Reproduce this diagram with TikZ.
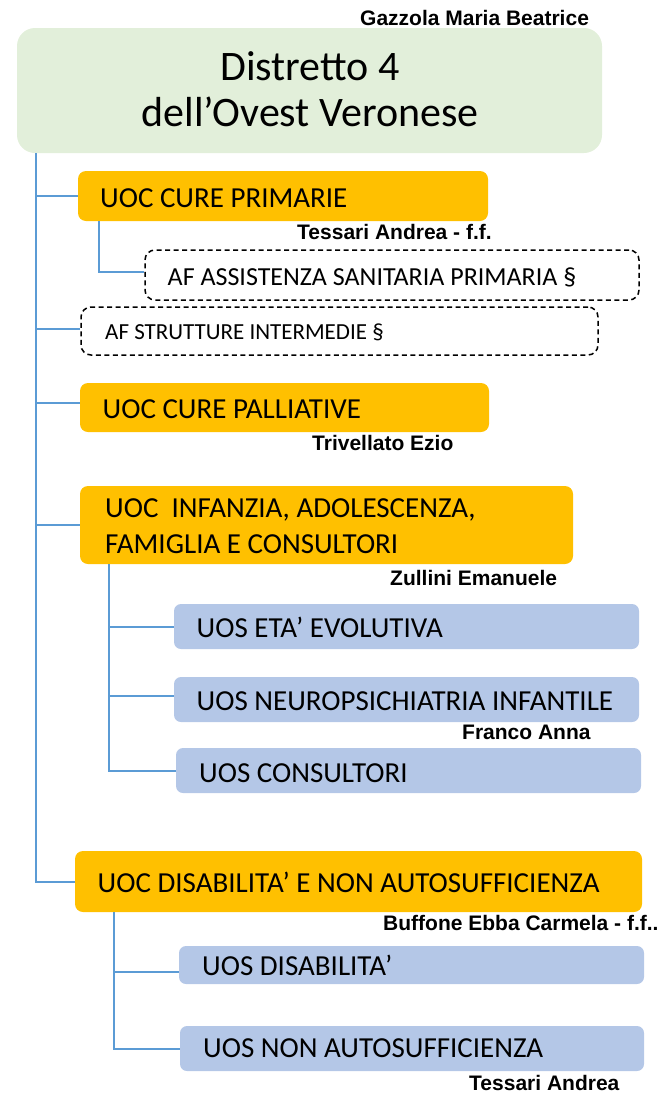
\documentclass[tikz,border=0pt]{standalone}
\usepackage{fontspec}
\setmainfont{Carlito}
\newfontfamily\namefont{Liberation Sans}
\definecolor{topgreen}{HTML}{E2EFDA}
\definecolor{uocorange}{HTML}{FFC000}
\definecolor{uosblue}{HTML}{B4C7E7}
\definecolor{connblue}{HTML}{5B9BD5}
\tikzset{
  topbox/.style={fill=topgreen, rounded corners=18pt, inner sep=0pt},
  uocbox/.style={fill=uocorange, rounded corners=8pt, inner sep=0pt},
  uosbox/.style={fill=uosblue, rounded corners=7pt, inner sep=0pt},
  afbox/.style={draw=black, dash pattern=on 5pt off 3.5pt, line width=1.5pt, rounded corners=10pt, inner sep=0pt},
  conn/.style={draw=connblue, line width=2pt},
  boxtext/.style={anchor=base west, inner sep=0pt, font=\fontsize{29}{35}\selectfont},
  nametext/.style={anchor=base west, inner sep=0pt, font=\namefont\bfseries\fontsize{21}{25}\selectfont},
}
\begin{document}
\begin{tikzpicture}[x=1pt,y=-1pt]
\useasboundingbox (0,0) rectangle (667,1095);
% boxes
\node[topbox, minimum width=585pt, minimum height=125pt] (top) at (309.5,90.5) {};
\node[uocbox, minimum width=410pt, minimum height=50pt] (uoc1) at (283,196) {};
\node[afbox, minimum width=494pt, minimum height=50pt] (af1) at (392,275) {};
\node[afbox, minimum width=517pt, minimum height=48pt] (af2) at (339.5,331) {};
\node[uocbox, minimum width=409pt, minimum height=49pt] (uoc2) at (284.5,407.5) {};
\node[uocbox, minimum width=493pt, minimum height=78pt] (uoc3) at (326.5,525) {};
\node[uosbox, minimum width=465pt, minimum height=45pt] (uos1) at (406.5,626.5) {};
\node[uosbox, minimum width=465pt, minimum height=45pt] (uos2) at (406.5,699.5) {};
\node[uosbox, minimum width=465pt, minimum height=45pt] (uos3) at (408.5,770.5) {};
\node[uocbox, minimum width=567pt, minimum height=61pt] (uoc4) at (358.5,881.5) {};
\node[uosbox, minimum width=465pt, minimum height=38pt] (uos4) at (411.5,965) {};
\node[uosbox, minimum width=464pt, minimum height=45pt] (uos5) at (412,1048.5) {};
% connectors
\coordinate (t0) at (36,153);
\draw[conn] (t0) |- (uoc4.west);
\draw[conn] (t0 |- uoc1.west) -- (uoc1.west);
\draw[conn] (t0 |- 0,329) -- (af2.west |- 0,329);
\draw[conn] (t0 |- 0,403) -- (uoc2.west |- 0,403);
\draw[conn] (t0 |- uoc3.west) -- (uoc3.west);
\coordinate (s1) at (99,221);
\draw[conn] (s1) |- ([yshift=3pt]af1.west);
\coordinate (s3) at (109,564);
\draw[conn] (s3) |- (uos3.west);
\draw[conn] (s3 |- uos1.west) -- (uos1.west);
\draw[conn] (s3 |- 0,696) -- (uos2.west |- 0,696);
\coordinate (s4) at (114,912);
\draw[conn] (s4) |- (uos5.west);
\draw[conn] (s4 |- 0,972) -- (uos4.west |- 0,972);
% texts
\node[anchor=base, inner sep=0pt, font=\fontsize{42}{46}\selectfont] (tt1) at (310,80) {Distretto 4};
\node[anchor=base, inner sep=0pt, font=\fontsize{42}{46}\selectfont] (tt2) at (310,126) {dell’Ovest Veronese};
\node[nametext] (n0) at (360,25) {Gazzola Maria Beatrice};
\node[boxtext] (x1) at (100,207) {UOC CURE PRIMARIE};
\node[nametext] (n1) at (297,239) {Tessari Andrea - f.f.};
\node[boxtext, font=\fontsize{26}{31}\selectfont] (x2) at (167.5,285) {AF ASSISTENZA SANITARIA PRIMARIA §};
\node[boxtext, font=\fontsize{23}{28}\selectfont] (x3) at (105,339) {AF STRUTTURE INTERMEDIE §};
\node[boxtext] (x4) at (102.5,418) {UOC CURE PALLIATIVE};
\node[nametext] (n2) at (312,450) {Trivellato Ezio};
\node[boxtext] (x5) at (105,517) {UOC\ \ INFANZIA, ADOLESCENZA,};
\node[boxtext] (x6) at (105,553) {FAMIGLIA E CONSULTORI};
\node[nametext] (n3) at (390,585) {Zullini Emanuele};
\node[boxtext] (x7) at (196.5,637) {UOS ETA’ EVOLUTIVA};
\node[boxtext] (x8) at (196.5,710) {UOS NEUROPSICHIATRIA INFANTILE};
\node[nametext] (n4) at (462,739) {Franco Anna};
\node[boxtext] (x9) at (199,782) {UOS CONSULTORI};
\node[boxtext] (x10) at (97.5,892) {UOC DISABILITA’ E NON AUTOSUFFICIENZA};
\node[nametext] (n5) at (383,930) {Buffone Ebba Carmela - f.f..};
\node[boxtext] (x11) at (202,975) {UOS DISABILITA’};
\node[boxtext] (x12) at (203,1057) {UOS NON AUTOSUFFICIENZA};
\node[nametext] (n6) at (469,1090) {Tessari Andrea};
\end{tikzpicture}
\end{document}
